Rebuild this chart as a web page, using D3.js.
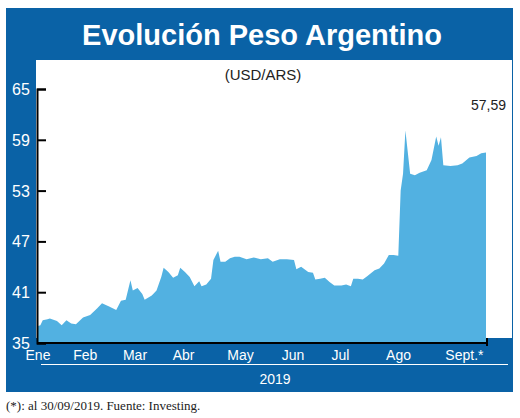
<!DOCTYPE html>
<html><head><meta charset="utf-8">
<script src="https://cdn.jsdelivr.net/npm/d3@7"></script>
<style>body{margin:0;background:#fff}</style>
</head><body>
<svg id="c" width="520" height="418"></svg>
<script>
// trading-day index and USD/ARS value
const days = [0,1,2,4,5,8,10,12,14,16,19,22,25,27,30,33,35,37,39,40,42,44,45,48,50,52,53,55,57,59,60,62,64,66,68,69,71,73,74,76,77,79,81,83,85,88,91,94,97,99,102,105,108,109,111,114,116,117,119,121,123,125,128,130,132,133,135,137,139,142,144,146,148,150,152,153,154,155,157,159,161,164,166,168,169,170,171,174,177,179,182,185,187,189];
const values = [37.0,37.1,37.7,37.8,37.9,37.6,37.1,37.7,37.3,37.2,38.0,38.3,39.1,39.7,39.3,38.9,40.0,40.1,42.4,41.2,41.5,40.8,40.1,40.6,41.2,42.8,43.9,43.4,42.7,43.0,43.9,43.4,42.8,41.7,42.3,41.7,41.9,42.6,44.8,45.9,44.6,44.6,45.0,45.2,45.2,44.9,45.1,44.9,45.0,44.6,44.9,44.9,44.8,43.7,44.0,43.4,43.3,42.5,42.6,42.7,42.2,41.8,41.8,41.9,41.7,42.6,42.6,42.5,42.9,43.6,43.8,44.4,45.4,45.4,45.3,53.0,55.0,60.1,55.0,54.8,55.1,55.4,56.6,59.4,58.3,59.3,56.0,55.9,56.0,56.2,56.9,57.1,57.4,57.5];
const months = ["Ene","Feb","Mar","Abr","May","Jun","Jul","Ago","Sept.*"];
const monthDays = [0,14,35,56,79,102,123,146,171];
const yTicks = [35,41,47,53,59,65];

const blue = "#0a62a6";
const svg = d3.select("#c");
// frame
svg.append("rect").attr("x",6).attr("y",8).attr("width",507).attr("height",384).attr("fill",blue);
svg.append("rect").attr("x",36).attr("y",60).attr("width",476).attr("height",278).attr("fill","#fff");

svg.append("text").attr("x",262).attr("y",45).attr("text-anchor","middle")
  .attr("fill","#fff").attr("font-family","Liberation Sans, Arial").attr("font-weight","bold")
  .attr("font-size",29).text("Evolución Peso Argentino");
svg.append("text").attr("x",263).attr("y",80).attr("text-anchor","middle")
  .attr("font-family","Liberation Sans, Arial").attr("font-size",15).attr("fill","#222").text("(USD/ARS)");

const x = d3.scaleLinear().domain([0,189]).range([38,486]);
const y = d3.scaleLinear().domain([35,65]).range([343,89]);

const data = days.map((d,i) => ({d, v: values[i]}));
const area = d3.area().x(p => x(p.d)).y0(y(35)).y1(p => y(p.v));
svg.append("path").datum(data).attr("d",area).attr("fill","#52b1e1");

// axes
const ya = svg.append("g").attr("transform",`translate(37,0)`)
  .call(d3.axisRight(y).tickValues(yTicks).tickSize(9).tickFormat(""));
ya.select(".domain").attr("stroke","#000").attr("stroke-width",2);
ya.selectAll(".tick line").attr("stroke","#000").attr("stroke-width",2);
svg.append("line").attr("x1",37).attr("x2",487).attr("y1",343).attr("y2",343)
  .attr("stroke","#000").attr("stroke-width",2);
svg.append("line").attr("x1",487).attr("x2",487).attr("y1",338).attr("y2",346)
  .attr("stroke","#000").attr("stroke-width",2);

svg.selectAll(".yl").data(yTicks).enter().append("text")
  .attr("x",21).attr("y",d => y(d)+6).attr("text-anchor","middle")
  .attr("fill","#fff").attr("font-family","Liberation Sans Narrow, Liberation Sans").attr("font-size",16)
  .text(d => d);

svg.selectAll(".ml").data(months).enter().append("text")
  .attr("x",(d,i) => i === 0 ? x(monthDays[i]) : x(monthDays[i]) + 2).attr("y",360)
  .attr("text-anchor",(d,i) => i === 0 ? "middle" : "start")
  .attr("fill","#fff").attr("font-family","Liberation Sans Narrow, Liberation Sans").attr("font-size",14)
  .text(d => d);
svg.append("line").attr("x1",41).attr("x2",508).attr("y1",364.5).attr("y2",364.5).attr("stroke","#fff");
svg.append("text").attr("x",275).attr("y",384).attr("text-anchor","middle").attr("fill","#fff")
  .attr("font-family","Liberation Sans, Arial").attr("font-size",14).text("2019");

svg.append("text").attr("x",506).attr("y",110).attr("text-anchor","end").attr("fill","#222")
  .attr("font-family","Liberation Sans, Arial").attr("font-size",14)
  .text(values[values.length-1] === 57.5 ? "57,59" : d3.format(".2f")(values[values.length-1]).replace(".",","));

svg.append("text").attr("x",6).attr("y",410).attr("fill","#222")
  .attr("font-family","Liberation Serif, serif").attr("font-size",13)
  .text("(*): al 30/09/2019. Fuente: Investing.");
</script>
</body></html>
